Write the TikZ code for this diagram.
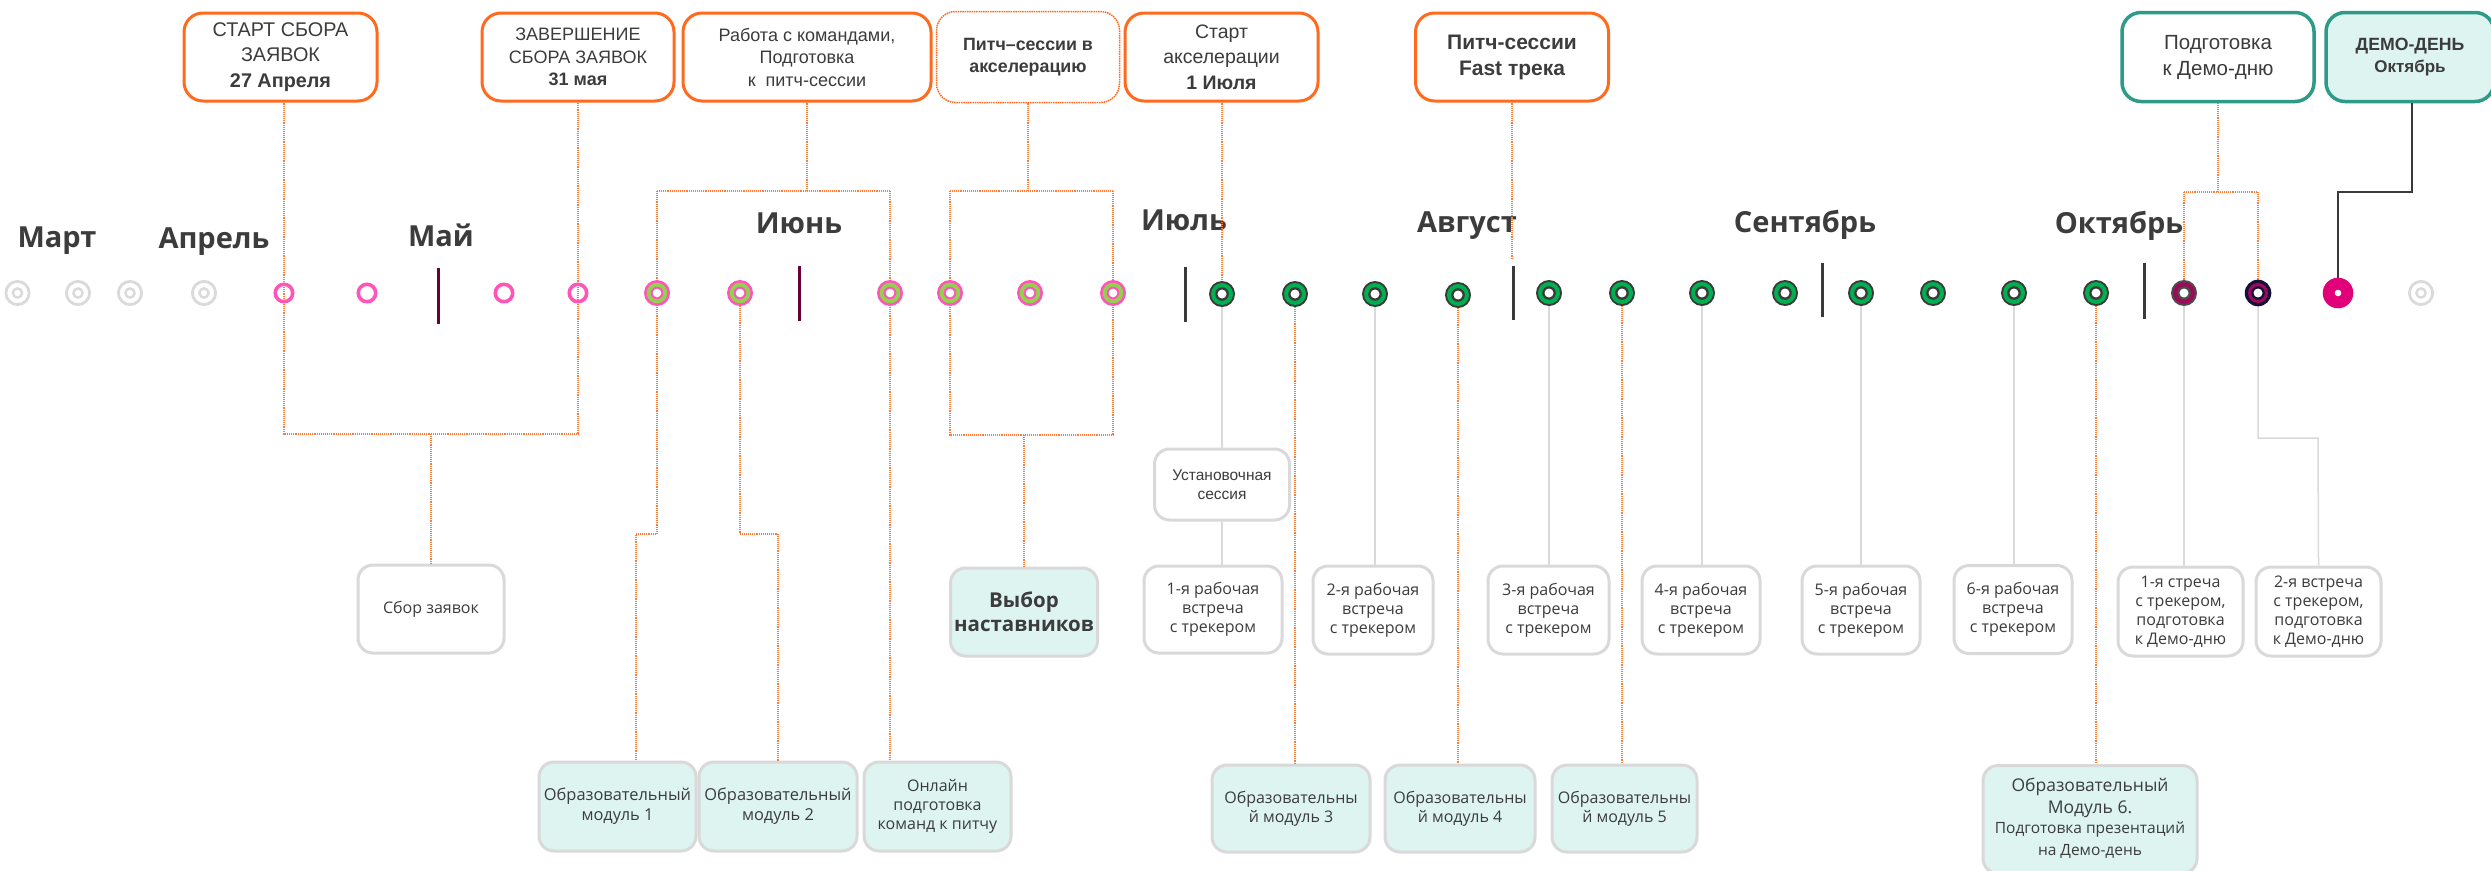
\documentclass[tikz,border=0pt]{standalone}
\usepackage{fontspec}
\setmainfont{Liberation Sans}
\newfontfamily\osf{Open Sans}
\definecolor{orC}{HTML}{FF6A1F}
\definecolor{odC}{HTML}{FF7A35}
\definecolor{tealC}{HTML}{2E9A88}
\definecolor{modC}{HTML}{DDF4F1}
\definecolor{lgC}{HTML}{D9D9D9}
\definecolor{lineG}{HTML}{DADADA}
\definecolor{txt}{HTML}{3C3C3C}
\definecolor{pinkC}{HTML}{FF55B8}
\definecolor{greenC}{HTML}{00B050}
\definecolor{lgreen}{HTML}{92D050}
\definecolor{dkC}{HTML}{3A3A3A}
\definecolor{purC}{HTML}{9C0A58}
\definecolor{navC}{HTML}{14103C}
\definecolor{magC}{HTML}{E2007A}
\definecolor{ringG}{HTML}{DADADA}
\definecolor{maroonC}{HTML}{6B0036}
\newcommand\fsz[2]{\fontsize{#1}{#2}\selectfont}
\newcommand\GrayRing[1]{\draw[ringG,line width=2.8pt] (#1) circle[radius=11.6pt]; \draw[ringG,line width=2.4pt] (#1) circle[radius=4.6pt];}
\newcommand\PinkRing[1]{\draw[pinkC,line width=3.6pt] (#1) circle[radius=8.7pt];}
\newcommand\PGRing[1]{\fill[pinkC] (#1) circle[radius=13pt]; \fill[lgreen] (#1) circle[radius=10.3pt]; \fill[pinkC] (#1) circle[radius=6.3pt]; \fill[white] (#1) circle[radius=4.3pt];}
\newcommand\GreenRing[1]{\fill[dkC] (#1) circle[radius=13pt]; \fill[greenC] (#1) circle[radius=11pt]; \fill[dkC] (#1) circle[radius=6.8pt]; \fill[white] (#1) circle[radius=4.5pt];}
\newcommand\PurRing[1]{\fill[dkC!90] (#1) circle[radius=13pt]; \fill[purC] (#1) circle[radius=11pt]; \fill[dkC!90] (#1) circle[radius=6.8pt]; \fill[white] (#1) circle[radius=4.5pt];}
\newcommand\NavRing[1]{\fill[navC] (#1) circle[radius=13.3pt]; \fill[purC] (#1) circle[radius=10pt]; \fill[navC] (#1) circle[radius=6.8pt]; \fill[white] (#1) circle[radius=4.5pt];}
\newcommand\MagDot[1]{\fill[magC] (#1) circle[radius=15.3pt]; \fill[white] (#1) circle[radius=3.3pt];}
\begin{document}
\begin{tikzpicture}[x=1pt,y=-1pt,
  topbox/.style={draw=orC, line width=3pt, rounded corners=19pt, fill=white, text=txt, align=center, inner sep=0pt},
  tealbox/.style={topbox, draw=tealC, line width=3.5pt},
  lowbox/.style={draw=lgC, line width=3pt, rounded corners=15pt, fill=white, text=txt, align=center, inner sep=0pt, font=\osf\fsz{16}{19}},
  modbox/.style={lowbox, fill=modC},
  month/.style={font=\osf\bfseries\fsz{29}{29}, text=txt, anchor=base, inner sep=0pt},
  odot/.style={draw=odC, line width=1.1pt, dash pattern=on 1pt off 0.9pt},
  gline/.style={draw=lineG, line width=1.5pt},
  dline/.style={draw=dkC, line width=2pt},
  sepM/.style={draw=maroonC, line width=3pt},
  sepD/.style={draw=dkC, line width=3pt}]
\useasboundingbox (0,0) rectangle (2491,870);
\fill[white] (0,0) rectangle (2491,870);

% ---- top boxes
\node[topbox, minimum width=193pt, minimum height=88pt, font=\fsz{19.8}{25.5}] (b1) at (280.5,57) {СТАРТ СБОРА\\ЗАЯВОК\\\textbf{27 Апреля}};
\node[topbox, minimum width=192pt, minimum height=88pt, font=\fsz{18}{22.5}] (b2) at (578,57) {ЗАВЕРШЕНИЕ\\СБОРА ЗАЯВОК\\\textbf{31 мая}};
\node[topbox, minimum width=248pt, minimum height=88pt, font=\fsz{18}{22.5}] (b3) at (807,57) {Работа с командами,\\Подготовка\\к\ \ питч-сессии};
\node[topbox, draw=none, minimum width=180pt, minimum height=88pt, font=\bfseries\fsz{17.8}{22}] (b4) at (1028,57) {Питч–сессии в\\акселерацию};
\draw[orC, line width=1.5pt, dash pattern=on 1.5pt off 0.8pt, rounded corners=19pt] (b4.south west) rectangle (b4.north east);
\node[topbox, minimum width=193pt, minimum height=88pt, font=\fsz{19.5}{25.5}] (b5) at (1221.5,57) {Старт\\акселерации\\\textbf{1 Июля}};
\node[topbox, minimum width=193pt, minimum height=88pt, font=\bfseries\fsz{21}{26}] (b6) at (1512,57) {Питч-сессии\\Fast трека};
\node[tealbox, minimum width=192pt, minimum height=89pt, font=\fsz{20.5}{26}] (b7) at (2218,57) {Подготовка\\к Демо-дню};
\node[tealbox, fill=modC, minimum width=168pt, minimum height=89pt, font=\bfseries\fsz{17.7}{21.5}] (b8) at (2410,57) {ДЕМО-ДЕНЬ\\{\fsz{17}{21.5}Октябрь}};

% ---- months
\node[month] (mar) at (57,247) {Март};
\node[month] (apr) at (214,248) {Апрель};
\node[month] (may) at (441,246) {Май};
\node[month] (jun) at (799,233) {Июнь};
\node[month] (jul) at (1184,230) {Июль};
\node[month] (aug) at (1467,232) {Август};
\node[month] (sep) at (1805,232) {Сентябрь};
\node[month] (oct) at (2119,233) {Октябрь};

% ---- lower boxes
\node[lowbox, minimum width=146pt, minimum height=88pt] (sbor) at (431,609) {Сбор заявок};
\node[modbox, minimum width=147pt, minimum height=88pt, font=\osf\bfseries\fsz{20.5}{24}] (vyb) at (1024,612) {Выбор\\наставников};
\node[lowbox, minimum width=135pt, minimum height=71pt, font=\fsz{15.5}{19}] (ust) at (1222,484.5) {Установочная\\сессия};
\node[lowbox, minimum width=138pt, minimum height=87pt] (r1) at (1213,609.5) {1-я рабочая\\встреча\\с трекером};
\node[lowbox, minimum width=120pt, minimum height=88pt] (r2) at (1373,610) {2-я рабочая\\встреча\\с трекером};
\node[lowbox, minimum width=121pt, minimum height=88pt] (r3) at (1548.5,610) {3-я рабочая\\встреча\\с трекером};
\node[lowbox, minimum width=118pt, minimum height=88pt] (r4) at (1701,610) {4-я рабочая\\встреча\\с трекером};
\node[lowbox, minimum width=118pt, minimum height=88pt] (r5) at (1861,610) {5-я рабочая\\встреча\\с трекером};
\node[lowbox, minimum width=118pt, minimum height=88pt] (r6) at (2013,609.5) {6-я рабочая\\встреча\\с трекером};
\node[lowbox, minimum width=125pt, minimum height=89pt] (s1) at (2180.5,611.5) {1-я стреча\\с трекером,\\подготовка\\к Демо-дню};
\node[lowbox, minimum width=125pt, minimum height=89pt] (s2) at (2318.5,611.5) {2-я встреча\\с трекером,\\подготовка\\к Демо-дню};
\node[modbox, minimum width=157pt, minimum height=89pt, font=\osf\fsz{16.4}{20}] (m1) at (617.5,806.5) {Образовательный\\модуль 1};
\node[modbox, minimum width=158pt, minimum height=89pt, font=\osf\fsz{16.4}{20}] (m2) at (778,806.5) {Образовательный\\модуль 2};
\node[modbox, minimum width=147pt, minimum height=89pt] (onl) at (937.5,806.5) {Онлайн\\подготовка\\команд к питчу};
\node[modbox, minimum width=158pt, minimum height=87pt] (m3) at (1291,808.5) {Образовательны\\й модуль 3};
\node[modbox, minimum width=150pt, minimum height=87pt] (m4) at (1460,808.5) {Образовательны\\й модуль 4};
\node[modbox, minimum width=145pt, minimum height=87pt] (m5) at (1624.5,808.5) {Образовательны\\й модуль 5};
\node[modbox, minimum width=214pt, minimum height=108pt, anchor=north] (m6) at (2090,764) {};
\node[text=txt, align=center, inner sep=0pt, anchor=north, font=\osf\fsz{17.5}{22}] (m6t) at (2090,778) {Образовательный\\Модуль 6.\\[-2.5pt]{\fsz{15.5}{19}Подготовка презентаций}\\{\fsz{15.5}{19}на Демо-день}};

% ---- timeline coordinates
\coordinate (c1) at (17.5,293); \coordinate (c2) at (78,293); \coordinate (c3) at (130,293); \coordinate (c4) at (204,293);
\coordinate (c5) at (284,293); \coordinate (c6) at (367,293); \coordinate (c7) at (504,293); \coordinate (c8) at (578,293);
\coordinate (c9) at (657,293); \coordinate (c10) at (740,293); \coordinate (c11) at (890,293); \coordinate (c12) at (950,293);
\coordinate (c13) at (1030,293); \coordinate (c14) at (1113,293);
\coordinate (c15) at (1222,294); \coordinate (c16) at (1295,294); \coordinate (c17) at (1375,294); \coordinate (c18) at (1458,295);
\coordinate (c19) at (1549,293); \coordinate (c20) at (1622,293); \coordinate (c21) at (1702,293); \coordinate (c22) at (1785,293);
\coordinate (c23) at (1861,293); \coordinate (c24) at (1933,293); \coordinate (c25) at (2014,293); \coordinate (c26) at (2096,293);
\coordinate (c27) at (2184,293); \coordinate (c28) at (2258,293); \coordinate (c29) at (2338,293); \coordinate (c30) at (2421,293);
\coordinate (kA) at (431,434); \coordinate (kB) at (807,191); \coordinate (kC) at (1028,191); \coordinate (kD) at (1024,435);
\coordinate (j1) at (636,534); \coordinate (j2) at (778,534); \coordinate (e6) at (1512,260);
\coordinate (kF) at (2218,192); \coordinate (kG) at (2412,192); \coordinate (kH) at (2318,438);

% ---- connectors
\draw[odot] (c5 |- b1.south) -- (c5 |- kA) -- (c8 |- kA) -- (c8 |- b2.south);
\draw[odot] (kA) -- (sbor.north);
\draw[odot] (b3.south) -- (kB);
\draw[odot] (c9 |- kB) -- (c11 |- kB);
\draw[odot] (c9 |- kB) -- (c9 |- j1) -- (j1) -- (j1 |- m1.north);
\draw[odot] (c10) -- (c10 |- j2) -- (j2) -- (m2.north);
\draw[odot] (c11 |- kB) -- (c11 |- onl.north);
\draw[odot] (b4.south) -- (kC);
\draw[odot] (c12 |- kC) -- (c14 |- kC);
\draw[odot] (c12 |- kC) -- (c12 |- kD) -- (c14 |- kD) -- (c14 |- kC);
\draw[odot] (kD) -- (vyb.north);
\draw[odot] (c15 |- b5.south) -- (c15);
\draw[gline] (c15) -- (ust.north);
\draw[gline] (ust.south) -- (ust.south |- r1.north);
\draw[odot] (b6.south) -- (e6);
\draw[odot] (b7.south) -- (kF);
\draw[odot] (c27 |- kF) -- (c28 |- kF);
\draw[odot] (c27 |- kF) -- (c27);
\draw[odot] (c28 |- kF) -- (c28);
\draw[dline] (kG |- b8.south) -- (kG) -- (c29 |- kG) -- (c29);
\draw[gline] (c17) -- (c17 |- r2.north);
\draw[gline] (c19) -- (c19 |- r3.north);
\draw[gline] (c21) -- (c21 |- r4.north);
\draw[gline] (c23) -- (c23 |- r5.north);
\draw[gline] (c25) -- (c25 |- r6.north);
\draw[gline] (c27) -- (c27 |- s1.north);
\draw[gline] (c28) -- (c28 |- kH) -- (kH) -- (s2.north);
\draw[odot] (c16) -- (c16 |- m3.north);
\draw[odot] (c18) -- (c18 |- m4.north);
\draw[odot] (c20) -- (c20 |- m5.north);
\draw[odot] (c26) -- (c26 |- m6.north);

% ---- month separators
\draw[sepM] (438,268) -- (438,324);
\draw[sepM] (799,266) -- (799,321);
\draw[sepD] (1185,267) -- (1185,322);
\draw[sepD] (1513,266) -- (1513,320);
\draw[sepD] (1822,263) -- (1822,317);
\draw[sepD] (2144,263) -- (2144,319);

% ---- timeline dots
\GrayRing{c1} \GrayRing{c2} \GrayRing{c3} \GrayRing{c4}
\PinkRing{c5} \PinkRing{c6} \PinkRing{c7} \PinkRing{c8}
\PGRing{c9} \PGRing{c10} \PGRing{c11} \PGRing{c12} \PGRing{c13} \PGRing{c14}
\GreenRing{c15} \GreenRing{c16} \GreenRing{c17} \GreenRing{c18} \GreenRing{c19} \GreenRing{c20}
\GreenRing{c21} \GreenRing{c22} \GreenRing{c23} \GreenRing{c24} \GreenRing{c25} \GreenRing{c26}
\PurRing{c27} \NavRing{c28} \MagDot{c29} \GrayRing{c30}
\end{tikzpicture}
\end{document}
